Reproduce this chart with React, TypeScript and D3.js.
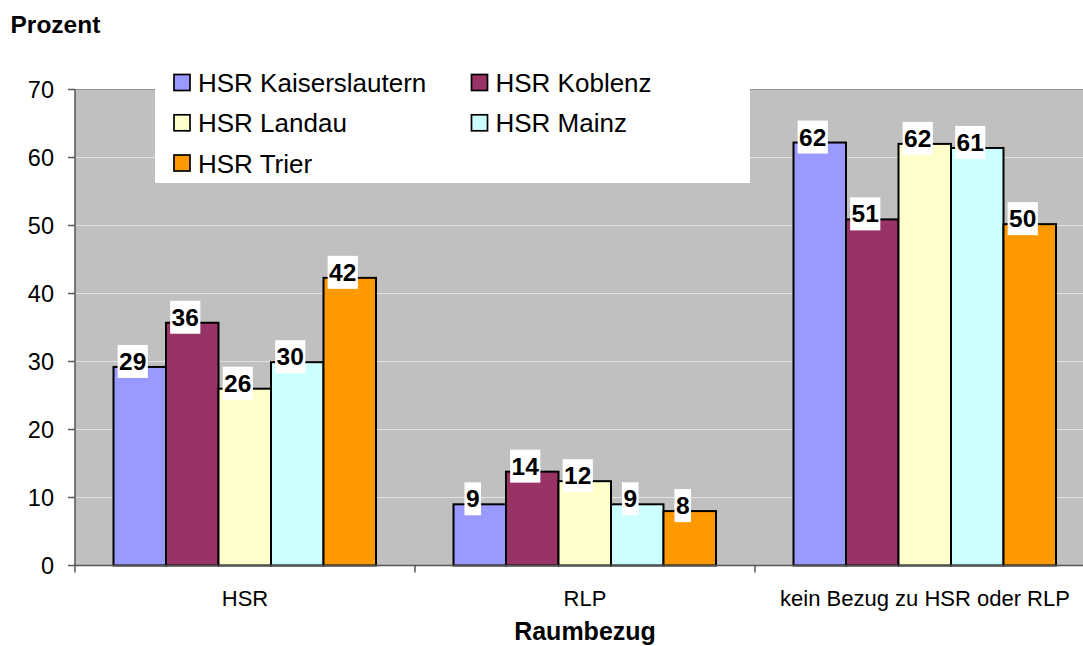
import { scaleBand, scaleLinear } from "d3";

const width = 1083;
const height = 646;

const categories = ["HSR", "RLP", "kein Bezug zu HSR oder RLP"];
const series = ["HSR Kaiserslautern", "HSR Koblenz", "HSR Landau", "HSR Mainz", "HSR Trier"];
const colors = ["#9999FF", "#993366", "#FFFFCC", "#CCFFFF", "#FF9900"];

// values per series, in category order
const kaiserslautern = [29.2, 9.0, 62.2];
const koblenz = [35.7, 13.8, 50.9];
const landau = [26.0, 12.4, 62.0];
const mainz = [29.9, 9.0, 61.4];
const trier = [42.3, 8.0, 50.2];
const values = [kaiserslautern, koblenz, landau, mainz, trier];

const yTicks = [0, 10, 20, 30, 40, 50, 60, 70];

const plot = { left: 75, right: 1095, top: 89.5, bottom: 565.5 };

export default function App() {
  const xScale = scaleBand<string>().domain(categories).range([plot.left, plot.right]);
  const xInner = scaleBand<string>().domain(series).range([38.5, 301]);
  const yScale = scaleLinear().domain([0, 70]).range([plot.bottom, plot.top]);

  const font = "Arial, 'Liberation Sans', sans-serif";

  const bars = values.flatMap((vals, si) =>
    vals.map((v, ci) => {
      const x = (xScale(categories[ci]) || 0) + (xInner(series[si]) || 0);
      const y = yScale(v);
      return (
        <rect
          key={`b-${si}-${ci}`}
          x={x}
          y={y}
          width={xInner.bandwidth()}
          height={plot.bottom - y}
          fill={colors[si]}
          stroke="#000"
          strokeWidth={2}
        />
      );
    })
  );

  const labels = values.flatMap((vals, si) =>
    vals.map((v, ci) => {
      const cx = (xScale(categories[ci]) || 0) + (xInner(series[si]) || 0) + xInner.bandwidth() / 2 - 7;
      const base = yScale(v) + 3;
      const txt = String(Math.round(v));
      const w = txt.length * 13.6 + 3;
      return (
        <g key={`l-${si}-${ci}`}>
          <rect x={cx - w / 2} y={base - 25} width={w} height={33} fill="#fff" />
          <text x={cx} y={base} textAnchor="middle" fontSize={24.5} fontWeight="bold" fontFamily={font} fill="#000">
            {txt}
          </text>
        </g>
      );
    })
  );

  const legendPos = [
    { x: 174, y: 74.5 },
    { x: 471.5, y: 74.5 },
    { x: 174, y: 114.8 },
    { x: 471.5, y: 114.8 },
    { x: 174, y: 155 },
  ];

  return (
    <svg
      width={width}
      height={height}
      viewBox={`0 0 ${width} ${height}`}
      style={{ position: "absolute", left: 0, top: 0, background: "#fff" }}
    >
      <rect x={0} y={0} width={width} height={height} fill="#fff" />
      <text x={10.5} y={33} fontSize={24.5} fontWeight="bold" fontFamily={font} fill="#000">
        Prozent
      </text>

      {/* plot area */}
      <rect x={plot.left} y={plot.top} width={plot.right - plot.left} height={plot.bottom - plot.top} fill="#C0C0C0" />
      {yTicks.filter((t) => t > 0).map((t) => (
        <line
          key={`g-${t}`}
          x1={plot.left}
          x2={plot.right}
          y1={yScale(t)}
          y2={yScale(t)}
          stroke={t === 70 ? "#909090" : "#E3E3E3"}
          strokeWidth={1}
        />
      ))}

      {bars}

      {/* axes */}
      <line x1={plot.left} x2={plot.left} y1={plot.top} y2={plot.bottom + 7} stroke="#555" strokeWidth={1.5} />
      <line x1={plot.left} x2={plot.right} y1={plot.bottom} y2={plot.bottom} stroke="#555" strokeWidth={1.5} />
      {yTicks.map((t) => (
        <g key={`yt-${t}`}>
          <line x1={plot.left - 7} x2={plot.left} y1={yScale(t)} y2={yScale(t)} stroke="#555" strokeWidth={1.5} />
          <text x={54} y={yScale(t) + 8.5} textAnchor="end" fontSize={23.5} fontFamily={font} fill="#000">
            {t}
          </text>
        </g>
      ))}
      {categories.slice(1).map((c) => (
        <line
          key={`xt-${c}`}
          x1={xScale(c)}
          x2={xScale(c)}
          y1={plot.bottom}
          y2={plot.bottom + 7}
          stroke="#555"
          strokeWidth={1.5}
        />
      ))}
      {categories.map((c) => (
        <text
          key={`xl-${c}`}
          x={(xScale(c) || 0) + xScale.bandwidth() / 2}
          y={606}
          textAnchor="middle"
          fontSize={22}
          fontFamily={font}
          fill="#000"
        >
          {c}
        </text>
      ))}

      {labels}

      {/* legend */}
      <rect x={155} y={62} width={595} height={121} fill="#fff" />
      {series.map((s, i) => (
        <g key={`lg-${s}`}>
          <rect x={legendPos[i].x} y={legendPos[i].y} width={16} height={16} fill={colors[i]} stroke="#000" strokeWidth={1.7} />
          <text x={legendPos[i].x + 24} y={legendPos[i].y + 17.5} fontSize={26} fontFamily={font} fill="#000">
            {s}
          </text>
        </g>
      ))}

      <text x={(plot.left + plot.right) / 2} y={640} textAnchor="middle" fontSize={25} fontWeight="bold" fontFamily={font} fill="#000">
        Raumbezug
      </text>
    </svg>
  );
}
